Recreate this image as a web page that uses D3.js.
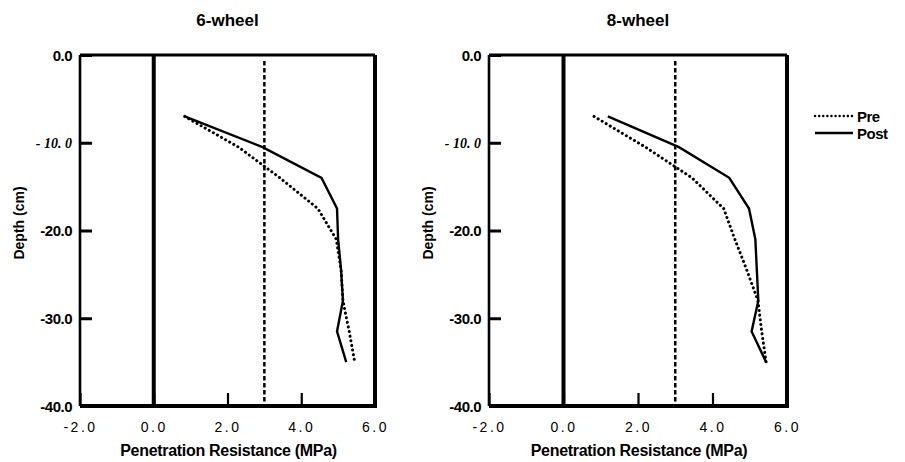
<!DOCTYPE html>
<html>
<head>
<meta charset="utf-8">
<script src="https://cdn.jsdelivr.net/npm/d3@7"></script>
<style>
body{margin:0;background:#fff;}
svg{display:block;}
</style>
</head>
<body>
<div id="chart"></div>
<script>
// depth of each reading (cm), shared by all series
const depths = [-7, -10.5, -14, -17.5, -21, -24.5, -28, -31.5, -35];
// penetration resistance (MPa)
const sixPre  = [0.84, 2.3, 3.42, 4.45, 4.95, 5.08, 5.13, 5.3, 5.45];
const sixPost = [0.84, 2.95, 4.55, 4.97, 5.0, 5.08, 5.13, 4.97, 5.22];
const eightPre  = [0.82, 2.2, 3.45, 4.3, 4.6, 4.92, 5.22, 5.32, 5.44];
const eightPost = [1.19, 3.1, 4.45, 4.98, 5.15, 5.19, 5.23, 5.05, 5.44];

const panelTitles = ["6-wheel", "8-wheel"];
const seriesNames = ["Pre", "Post"];
const xTicks = [-2, 0, 2, 4, 6];
const xTickLabels = ["-2.0", "0.0", "2.0", "4.0", "6.0"];
const yTicks = [0, -10, -20, -30, -40];
const yTickLabels = ["0.0", "- 10. 0", "-20.0", "-30.0", "-40.0"];
const criticalLimit = 3.0;

const width = 905, height = 462;
const plotTop = 55, plotBottom = 406;

const panels = [
  {title: panelTitles[0], left: 80, right: 375, pre: sixPre, post: sixPost},
  {title: panelTitles[1], left: 489, right: 787, pre: eightPre, post: eightPost}
];

const svg = d3.select('#chart').append('svg')
  .attr('width', width)
  .attr('height', height);

const y = d3.scaleLinear().domain([0, -40]).range([plotTop, plotBottom]);

panels.forEach(p => {
  const x = d3.scaleLinear().domain([-2, 6]).range([p.left, p.right]);
  const g = svg.append('g');

  // title
  g.append('text')
    .attr('x', (p.left + p.right) / 2)
    .attr('y', 26)
    .attr('text-anchor', 'middle')
    .style('font-family', '"Liberation Sans", Arial, sans-serif')
    .style('font-weight', 'bold')
    .style('font-size', '17px')
    .text(p.title);

  // y axis: inward ticks, labels on the left
  const yAxis = g.append('g')
    .attr('transform', `translate(${p.left},0)`)
    .call(d3.axisLeft(y).tickValues(yTicks).tickSize(-12).tickPadding(8)
      .tickFormat((d, i) => yTickLabels[i]));
  yAxis.select('.domain').remove();
  yAxis.selectAll('line').attr('stroke', '#000').attr('stroke-width', 3);
  yAxis.selectAll('text')
    .attr('fill', '#000')
    .attr('dy', '0.36em')
    .style('font-family', '"Liberation Sans", Arial, sans-serif')
    .style('font-weight', 'bold')
    .style('font-size', '15px')
    .style('letter-spacing', '-0.5px');
  yAxis.selectAll('.tick').filter(d => d === -10).select('text')
    .style('font-family', '"Liberation Serif", "Times New Roman", serif')
    .style('font-style', 'italic')
    .style('font-size', '14px')
    .style('letter-spacing', '0px');

  // x axis: inward ticks, labels below
  const xAxis = g.append('g')
    .attr('transform', `translate(0,${plotBottom})`)
    .call(d3.axisBottom(x).tickValues(xTicks).tickSize(-13).tickPadding(16)
      .tickFormat((d, i) => xTickLabels[i]));
  xAxis.select('.domain').remove();
  xAxis.selectAll('line').attr('stroke', '#000').attr('stroke-width', 2.2);
  xAxis.selectAll('text')
    .attr('fill', '#000')
    .style('font-family', '"Liberation Sans", Arial, sans-serif')
    .style('font-size', '14px')
    .style('letter-spacing', '2.5px');

  // frame
  const frame = [
    [p.left, plotTop, p.right, plotTop, 3],
    [p.left, plotTop, p.left, plotBottom, 2.6],
    [p.right, plotTop, p.right, plotBottom, 4],
    [p.left, plotBottom, p.right + 2, plotBottom, 4]
  ];
  frame.forEach(f => {
    g.append('line')
      .attr('x1', f[0]).attr('y1', f[1]).attr('x2', f[2]).attr('y2', f[3])
      .attr('stroke', '#000').attr('stroke-width', f[4]);
  });

  // zero line
  g.append('line')
    .attr('x1', x(0)).attr('x2', x(0))
    .attr('y1', plotTop).attr('y2', plotBottom)
    .attr('stroke', '#000').attr('stroke-width', 4);

  // critical resistance line
  g.append('line')
    .attr('x1', x(criticalLimit)).attr('x2', x(criticalLimit))
    .attr('y1', plotTop + 6).attr('y2', plotBottom)
    .attr('stroke', '#000').attr('stroke-width', 2.5)
    .attr('stroke-dasharray', '4.5,2.5');

  const line = d3.line()
    .x(d => x(d[0]))
    .y(d => y(d[1]));

  g.append('path')
    .datum(d3.zip(p.pre, depths))
    .attr('d', line)
    .attr('fill', 'none')
    .attr('stroke', '#000')
    .attr('stroke-width', 3)
    .attr('stroke-linecap', 'round')
    .attr('stroke-dasharray', '0.1,4.6');

  g.append('path')
    .datum(d3.zip(p.post, depths))
    .attr('d', line)
    .attr('fill', 'none')
    .attr('stroke', '#000')
    .attr('stroke-width', 2.4);

  // axis titles
  g.append('text')
    .attr('x', (p.left + p.right) / 2 + 1)
    .attr('y', 456)
    .attr('text-anchor', 'middle')
    .style('font-family', '"Liberation Sans", Arial, sans-serif')
    .style('font-weight', 'bold')
    .style('font-size', '16px')
    .style('letter-spacing', '-0.3px')
    .text('Penetration Resistance (MPa)');

  g.append('text')
    .attr('transform', `translate(${p.left - 56},223) rotate(-90)`)
    .attr('text-anchor', 'middle')
    .style('font-family', '"Liberation Sans", Arial, sans-serif')
    .style('font-weight', 'bold')
    .style('font-size', '14px')
    .text('Depth (cm)');
});

// legend
const legend = svg.append('g');
seriesNames.forEach((name, i) => {
  const ly = 116 + i * 17;
  legend.append('line')
    .attr('x1', 815).attr('x2', 853)
    .attr('y1', ly).attr('y2', ly)
    .attr('stroke', '#000')
    .attr('stroke-width', 2.4)
    .attr('stroke-linecap', i === 0 ? 'round' : 'butt')
    .attr('stroke-dasharray', i === 0 ? '0.1,4' : null);
  legend.append('text')
    .attr('x', 857)
    .attr('y', ly + 5.5)
    .style('font-family', '"Liberation Sans", Arial, sans-serif')
    .style('font-weight', 'bold')
    .style('font-size', '15px')
    .style('letter-spacing', '-0.5px')
    .text(name);
});
</script>
</body>
</html>
